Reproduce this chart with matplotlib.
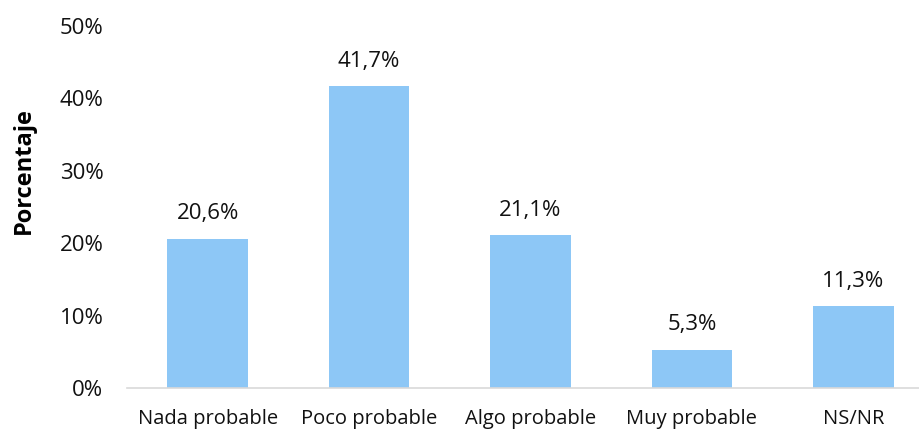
import matplotlib
matplotlib.use("Agg")
import matplotlib.pyplot as plt

plt.rcParams['font.family'] = ['Open Sans', 'DejaVu Sans']

categories = ['Nada probable', 'Poco probable', 'Algo probable', 'Muy probable', 'NS/NR']
values = [20.6, 41.7, 21.1, 5.3, 11.3]
yticks = [0, 10, 20, 30, 40, 50]

fig = plt.figure(figsize=(9.2, 4.3), dpi=100)
ax = fig.add_axes([127 / 920, 42 / 430, 807 / 920, 362 / 430])

x = range(len(categories))
ax.bar(x, values, width=0.5, color='#8DC7F6', zorder=2)

for xi, v in zip(x, values):
    ax.text(xi, v + 2.0, f'{v:.1f}%'.replace('.', ','), ha='center', va='bottom',
            fontsize=16, color='#111111')

ax.set_xlim(-0.5, 4.5)
ax.set_ylim(0, 50)
ax.set_xticks(list(x))
ax.set_xticklabels(categories, fontsize=14.5, color='#111111')
ax.set_yticks(yticks)
ax.set_yticklabels([f'{t}%' for t in yticks], fontsize=16, color='#111111')
ax.tick_params(axis='both', length=0)
ax.tick_params(axis='x', pad=15)
ax.tick_params(axis='y', pad=17)

for side in ['left', 'right', 'top']:
    ax.spines[side].set_visible(False)
ax.spines['bottom'].set_color('#D9D9D9')
ax.spines['bottom'].set_linewidth(1.2)

ax.set_ylabel('Porcentaje', fontsize=17, fontweight='bold')
ax.yaxis.set_label_coords(-0.113, 0.6)

fig.savefig('out.png', dpi=100)
